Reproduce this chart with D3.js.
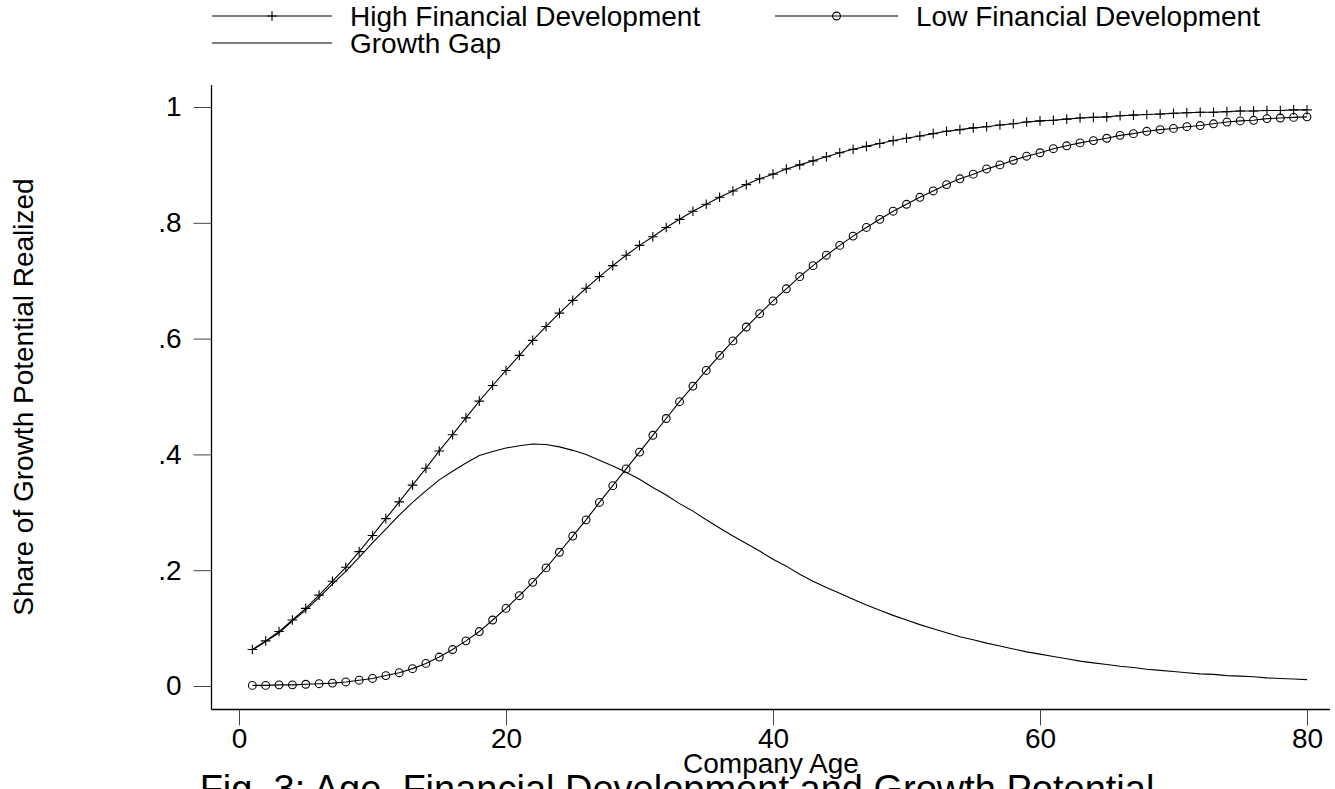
<!DOCTYPE html>
<html>
<head>
<meta charset="utf-8">
<script src="https://cdn.jsdelivr.net/npm/d3@7"></script>
<style>
  html, body { margin: 0; padding: 0; background: #fff; overflow: hidden; }
  svg { display: block; }
  text { font-family: "Liberation Sans", Arial, Helvetica, sans-serif; fill: #000; }
</style>
</head>
<body>
<svg id="chart" width="1335" height="789"></svg>
<script>
// ---- Data ----
const ages = d3.range(1, 81);

const highFinancial = [
  0.063, 0.078, 0.094, 0.114, 0.134, 0.157, 0.181, 0.205, 0.232, 0.260,
  0.289, 0.318, 0.347, 0.376, 0.406, 0.434, 0.463, 0.492, 0.519, 0.545,
  0.571, 0.597, 0.621, 0.644, 0.666, 0.687, 0.707, 0.726, 0.744, 0.761,
  0.776, 0.792, 0.806, 0.820, 0.832, 0.844, 0.855, 0.866, 0.876, 0.884,
  0.893, 0.900, 0.907, 0.914, 0.921, 0.927, 0.932, 0.937, 0.942, 0.946,
  0.950, 0.954, 0.958, 0.961, 0.964, 0.966, 0.969, 0.971, 0.974, 0.976,
  0.977, 0.979, 0.981, 0.982, 0.983, 0.985, 0.986, 0.987, 0.988, 0.989,
  0.990, 0.991, 0.991, 0.992, 0.993, 0.993, 0.994, 0.994, 0.995, 0.995
];

const lowFinancial = [
  0.001, 0.001, 0.002, 0.002, 0.003, 0.004, 0.005, 0.007, 0.010, 0.013,
  0.018, 0.023, 0.030, 0.039, 0.050, 0.063, 0.078, 0.094, 0.114, 0.134,
  0.156, 0.179, 0.204, 0.231, 0.259, 0.287, 0.317, 0.346, 0.375, 0.404,
  0.433, 0.462, 0.491, 0.518, 0.545, 0.571, 0.596, 0.620, 0.643, 0.665,
  0.686, 0.707, 0.726, 0.744, 0.761, 0.777, 0.792, 0.806, 0.820, 0.832,
  0.844, 0.855, 0.866, 0.876, 0.884, 0.893, 0.900, 0.908, 0.915, 0.921,
  0.928, 0.933, 0.938, 0.942, 0.946, 0.951, 0.954, 0.958, 0.961, 0.963,
  0.966, 0.968, 0.971, 0.974, 0.976, 0.977, 0.980, 0.981, 0.982, 0.983
];

const growthGap = [
  0.062, 0.077, 0.092, 0.112, 0.131, 0.153, 0.176, 0.198, 0.222, 0.247,
  0.271, 0.295, 0.317, 0.337, 0.356, 0.371, 0.385, 0.398, 0.405, 0.411,
  0.415, 0.418, 0.417, 0.413, 0.407, 0.400, 0.390, 0.380, 0.369, 0.357,
  0.343, 0.330, 0.315, 0.302, 0.287, 0.273, 0.259, 0.246, 0.233, 0.219,
  0.207, 0.193, 0.181, 0.170, 0.160, 0.150, 0.140, 0.131, 0.122, 0.114,
  0.106, 0.099, 0.092, 0.085, 0.080, 0.074, 0.069, 0.064, 0.059, 0.055,
  0.051, 0.047, 0.043, 0.040, 0.037, 0.034, 0.032, 0.029, 0.027, 0.025,
  0.023, 0.021, 0.020, 0.018, 0.017, 0.016, 0.014, 0.013, 0.012, 0.011
];

const xTicks = [0, 20, 40, 60, 80];
const yTicks = [0, 0.2, 0.4, 0.6, 0.8, 1];
const yTickLabels = ["0", ".2", ".4", ".6", ".8", "1"];

const legendLabels = ["High Financial Development", "Low Financial Development", "Growth Gap"];
const xTitle = "Company Age";
const yTitle = "Share of Growth Potential Realized";
const chartTitle = "Fig. 3: Age, Financial Development and Growth Potential";

// ---- Layout ----
const svg = d3.select("#chart");
const axisX0 = 211.5, axisX1 = 1330, axisYTop = 85, axisYBottom = 709.5;

const x = d3.scaleLinear().domain([0, 80]).range([239, 1307]);
const y = d3.scaleLinear().domain([0, 1]).range([686, 107]);

const fontSize = 28;

// Axis lines
svg.append("line").attr("x1", axisX0).attr("x2", axisX0).attr("y1", axisYTop).attr("y2", axisYBottom)
  .attr("stroke", "#000").attr("stroke-width", 1.3);
svg.append("line").attr("x1", axisX0).attr("x2", axisX1).attr("y1", axisYBottom).attr("y2", axisYBottom)
  .attr("stroke", "#000").attr("stroke-width", 1.3);

// Y axis
const yAxis = d3.axisLeft(y).tickValues(yTicks)
  .tickFormat((d, i) => yTickLabels[i]).tickSize(18).tickPadding(12);
const gy = svg.append("g").attr("transform", `translate(${axisX0},0)`).call(yAxis);
gy.select(".domain").remove();
gy.selectAll(".tick line").attr("stroke", "#444").attr("stroke-width", 1);
gy.selectAll(".tick text").style("font-size", fontSize + "px")
  .style("font-family", '"Liberation Sans", Arial, sans-serif').attr("fill", "#000");

// X axis
const xAxis = d3.axisBottom(x).tickValues(xTicks).tickFormat(d3.format("d")).tickSize(16).tickPadding(3);
const gx = svg.append("g").attr("transform", `translate(0,${axisYBottom})`).call(xAxis);
gx.select(".domain").remove();
gx.selectAll(".tick line").attr("stroke", "#444").attr("stroke-width", 1);
gx.selectAll(".tick text").style("font-size", fontSize + "px")
  .style("font-family", '"Liberation Sans", Arial, sans-serif').attr("fill", "#000");

// Axis titles
svg.append("text").attr("x", 771).attr("y", 773).attr("text-anchor", "middle")
  .style("font-size", fontSize + "px").text(xTitle);
svg.append("text").attr("transform", "translate(33,397) rotate(-90)").attr("text-anchor", "middle")
  .style("font-size", fontSize + "px").text(yTitle);

// Chart title (cut off at the bottom edge, as in the reference)
svg.append("text").attr("x", 677).attr("y", 802).attr("text-anchor", "middle")
  .style("font-size", "38px").text(chartTitle);

// ---- Series ----
const line = (vals) => d3.line().x((d, i) => x(ages[i])).y(d => y(d))(vals);

svg.append("path").attr("d", line(growthGap)).attr("fill", "none").attr("stroke", "#000").attr("stroke-width", 1.1);
svg.append("path").attr("d", line(highFinancial)).attr("fill", "none").attr("stroke", "#000").attr("stroke-width", 1.1);
svg.append("path").attr("d", line(lowFinancial)).attr("fill", "none").attr("stroke", "#000").attr("stroke-width", 1.1);

const plusPath = "M-4.8,0H4.8M0,-4.8V4.8";
svg.append("g").selectAll("path").data(highFinancial).join("path")
  .attr("transform", (d, i) => `translate(${x(ages[i])},${y(d)})`)
  .attr("d", plusPath).attr("stroke", "#000").attr("stroke-width", 1.1).attr("fill", "none");

svg.append("g").selectAll("circle").data(lowFinancial).join("circle")
  .attr("cx", (d, i) => x(ages[i])).attr("cy", d => y(d)).attr("r", 3.9)
  .attr("fill", "none").attr("stroke", "#000").attr("stroke-width", 1.1);

// ---- Legend ----
const legendItems = [
  { label: legendLabels[0], x0: 212, x1: 332, ty: 16, marker: "plus" },
  { label: legendLabels[1], x0: 775, x1: 898, ty: 16, marker: "circle" },
  { label: legendLabels[2], x0: 212, x1: 332, ty: 43, marker: null }
];
const lg = svg.append("g");
legendItems.forEach(it => {
  lg.append("line").attr("x1", it.x0).attr("x2", it.x1).attr("y1", it.ty).attr("y2", it.ty)
    .attr("stroke", "#000").attr("stroke-width", 1.1);
  const cx = (it.x0 + it.x1) / 2;
  if (it.marker === "plus") {
    lg.append("path").attr("transform", `translate(${cx},${it.ty})`).attr("d", plusPath)
      .attr("stroke", "#000").attr("stroke-width", 1.1);
  } else if (it.marker === "circle") {
    lg.append("circle").attr("cx", cx).attr("cy", it.ty).attr("r", 3.9)
      .attr("fill", "none").attr("stroke", "#000").attr("stroke-width", 1.1);
  }
  lg.append("text").attr("x", it.x1 + 18).attr("y", it.ty + 10)
    .style("font-size", fontSize + "px").text(it.label);
});
</script>
</body>
</html>
